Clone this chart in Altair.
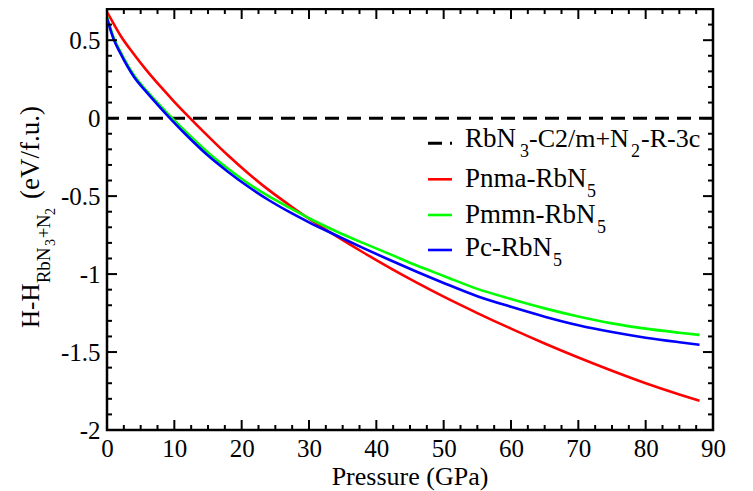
import altair as alt
import pandas as pd

# ---------------- data ----------------
pressure = [0, 1, 2, 4, 6, 8, 10, 12, 15, 18, 21, 24, 27, 30, 34, 38, 42, 46, 50, 55, 60, 65, 70, 75, 80, 85, 88]
pnma = [0.68, 0.605, 0.53, 0.41, 0.30, 0.20, 0.105, 0.015, -0.115, -0.24, -0.355, -0.46, -0.555, -0.645,
        -0.755, -0.86, -0.96, -1.055, -1.145, -1.25, -1.35, -1.445, -1.535, -1.62, -1.70, -1.772, -1.812]
pmmn = [0.65, 0.515, 0.425, 0.275, 0.17, 0.075, -0.015, -0.10, -0.22, -0.325, -0.42, -0.50, -0.572, -0.642,
        -0.725, -0.80, -0.872, -0.945, -1.012, -1.095, -1.16, -1.22, -1.272, -1.316, -1.35, -1.376, -1.39]
pc = [0.64, 0.505, 0.415, 0.265, 0.16, 0.063, -0.03, -0.118, -0.24, -0.345, -0.44, -0.525, -0.60, -0.668,
      -0.751, -0.832, -0.91, -0.985, -1.057, -1.142, -1.21, -1.273, -1.328, -1.372, -1.408, -1.437, -1.453]

series_names = ["Pnma-RbN5", "Pmmn-RbN5", "Pc-RbN5"]
series_colors = ["#ff0000", "#00ff00", "#0000ff"]
reference_level = [0.0]

x_major = [0, 10, 20, 30, 40, 50, 60, 70, 80, 90]
x_minor = [2.5, 5, 7.5, 12.5, 15, 17.5, 22.5, 25, 27.5, 32.5, 35, 37.5, 42.5, 45, 47.5,
           52.5, 55, 57.5, 62.5, 65, 67.5, 72.5, 75, 77.5, 82.5, 85, 87.5]
y_major = [-2, -1.5, -1, -0.5, 0, 0.5]
y_minor = [-1.9, -1.8, -1.7, -1.6, -1.4, -1.3, -1.2, -1.1, -0.9, -0.8, -0.7, -0.6,
           -0.4, -0.3, -0.2, -0.1, 0.1, 0.2, 0.3, 0.4, 0.6]

# legend label pieces: main, sub, main, sub, main
legend_pieces = [
    ["RbN", "3", "-C2/m+N", "2", "-R-3c"],
    ["Pnma-RbN", "5"],
    ["Pmmn-RbN", "5"],
    ["Pc-RbN", "5"],
]
x_title = "Pressure (GPa)"
y_title_pieces = ["H-H", "RbN", "3", "+", "N", "2", "(eV/f.u.)"]

# ---------------- layout ----------------
FONT = "Liberation Serif"
W, H = 606, 421

rows = []
for name, vals in zip(series_names, [pnma, pmmn, pc]):
    for p, v in zip(pressure, vals):
        rows.append({"P": p, "E": v, "series": name})
df = pd.DataFrame(rows)
one = pd.DataFrame({"k": [0]})

xs = alt.Scale(domain=[0, 90], nice=False, zero=False)
ys = alt.Scale(domain=[-2, 0.7], nice=False, zero=False)

xaxis = alt.Axis(values=x_major, title="", ticks=False, tickSize=0, domain=False, grid=False,
                 labelFont=FONT, labelFontSize=25, labelColor="black", labelPadding=6,
                 labelFlush=False, labelOverlap=False)
yaxis = alt.Axis(values=y_major, title="", ticks=False, tickSize=0, domain=False, grid=False,
                 labelFont=FONT, labelFontSize=25, labelColor="black", labelPadding=7,
                 labelExpr="toString(datum.value)", labelOverlap=False, labelFlush=False)

lines = alt.Chart(df).mark_line(strokeWidth=2.6, interpolate="monotone", clip=True).encode(
    x=alt.X("P:Q", scale=xs, axis=xaxis),
    y=alt.Y("E:Q", scale=ys, axis=yaxis),
    color=alt.Color("series:N", scale=alt.Scale(domain=series_names, range=series_colors), legend=None),
)

zero_line = alt.Chart(pd.DataFrame({"z": reference_level})).mark_rule(
    color="black", strokeWidth=3, strokeDash=[14, 8]
).encode(y=alt.Y("z:Q", scale=ys, axis=yaxis))


def xticks(vals, length):
    d = pd.DataFrame({"v": vals})
    bottom = alt.Chart(d).mark_rule(color="black", strokeWidth=2).encode(
        x=alt.X("v:Q", scale=xs, axis=xaxis), y=alt.value(H), y2=alt.value(H - length))
    top = alt.Chart(d).mark_rule(color="black", strokeWidth=2).encode(
        x=alt.X("v:Q", scale=xs, axis=xaxis), y=alt.value(0), y2=alt.value(length))
    return [bottom, top]


def yticks(vals, length):
    d = pd.DataFrame({"w": vals})
    left = alt.Chart(d).mark_rule(color="black", strokeWidth=2).encode(
        y=alt.Y("w:Q", scale=ys, axis=yaxis), x=alt.value(0), x2=alt.value(length))
    right = alt.Chart(d).mark_rule(color="black", strokeWidth=2).encode(
        y=alt.Y("w:Q", scale=ys, axis=yaxis), x=alt.value(W), x2=alt.value(W - length))
    return [left, right]


tick_layers = xticks(x_major, 10) + xticks(x_minor, 5) + yticks(y_major, 10) + yticks(y_minor, 5)


def txt(s, x, y, size, angle=0, align="left"):
    kw = {}
    if angle:
        kw["angle"] = angle
    return alt.Chart(one).mark_text(text=s, font=FONT, fontSize=size, color="black",
                                    align=align, baseline="alphabetic", **kw).encode(
        x=alt.value(x), y=alt.value(y))


# legend
sym_y = [134.3, 170.3, 206, 241]
txt_y = [137.7, 177.7, 213.7, 247]
legend_layers = []
legend_layers.append(alt.Chart(one).mark_rule(color="black", strokeWidth=3, strokeDash=[14, 8]).encode(
    x=alt.value(321), x2=alt.value(345), y=alt.value(sym_y[0])))
for c, yy in zip(series_colors, sym_y[1:]):
    legend_layers.append(alt.Chart(one).mark_rule(color=c, strokeWidth=2.6).encode(
        x=alt.value(321), x2=alt.value(345), y=alt.value(yy)))

p = legend_pieces[0]
legend_layers += [
    txt(p[0], 358, txt_y[0], 27),
    txt(p[1], 413, txt_y[0] + 10, 18),
    txt(p[2], 422, txt_y[0], 26),
    txt(p[3], 524, txt_y[0] + 10, 18),
    txt(p[4], 534, txt_y[0], 26),
]
sub_x = [480, 490, 446]
for pieces, yy, sx in zip(legend_pieces[1:], txt_y[1:], sub_x):
    legend_layers += [txt(pieces[0], 358, yy, 27), txt(pieces[1], sx, yy + 10, 18)]

# axis titles
title_layers = [txt(x_title, W / 2, 476, 26, align="center")]
yt = y_title_pieces
title_layers += [
    txt(yt[0], -68.5, 319, 25, angle=270),
    txt(yt[1], -57, 274.3, 19, angle=270),
    txt(yt[2], -52, 237, 14, angle=270),
    txt(yt[3], -57, 229.3, 19, angle=270),
    txt(yt[4], -57, 219.3, 19, angle=270),
    txt(yt[5], -52, 206, 14, angle=270),
    txt(yt[6], -68.5, 190, 27, angle=270),
]

chart = alt.layer(zero_line, lines, *legend_layers, *title_layers, *tick_layers).properties(
    width=W, height=H,
    autosize=alt.AutoSizeParams(type="none"),
    padding={"left": 99, "top": 1, "right": 32, "bottom": 61},
    background="white",
).configure_view(stroke="black", strokeWidth=2.5)

chart.save("out.html", embed_options={"renderer": "svg", "actions": False})
